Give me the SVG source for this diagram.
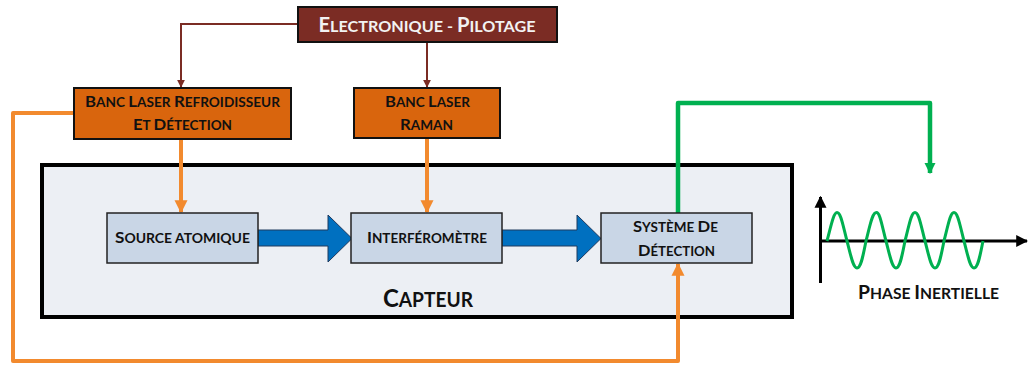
<svg xmlns="http://www.w3.org/2000/svg" width="1029" height="367" viewBox="0 0 1029 367">
<defs>
<style>
text{font-family:Lato,"Open Sans","Liberation Sans",sans-serif;font-weight:bold;text-anchor:middle}
.blk{fill:#111}
.inner{fill:#C9D6E6;stroke:#222;stroke-width:1.5}
.laser{fill:#D9650D;stroke:#111;stroke-width:2}
.red{fill:none;stroke:#7B2C24;stroke-width:2}
.org{fill:none;stroke:#F28A2E;stroke-width:4}
.grn{fill:none;stroke:#00B050;stroke-width:4.5}
.barrow{fill:#0070C0;stroke:#1F3A5F;stroke-width:1}
.s13{font-size:13px}
.s16{font-size:16px}
</style>
<marker id="mr" viewBox="0 0 10 10" refX="9" refY="5" markerWidth="8" markerHeight="10" orient="auto" markerUnits="userSpaceOnUse"><path d="M0,0L10,5L0,10z" fill="#7B2C24"/></marker>
<marker id="mo" viewBox="0 0 10 10" refX="9" refY="5" markerWidth="13" markerHeight="20" orient="auto" markerUnits="userSpaceOnUse"><path d="M0,0L10,5L0,10z" fill="#F28A2E"/></marker>
<marker id="mg" viewBox="0 0 10 10" refX="9" refY="5" markerWidth="11" markerHeight="22" orient="auto" markerUnits="userSpaceOnUse"><path d="M0,0L10,5L0,10z" fill="#00B050"/></marker>
<marker id="mk" viewBox="0 0 10 10" refX="9" refY="5" markerWidth="12" markerHeight="14" orient="auto" markerUnits="userSpaceOnUse"><path d="M0,0L10,5L0,10z" fill="#000"/></marker>
</defs>
<rect width="1029" height="367" fill="#fff"/>

<g id="capteur">
<rect x="42" y="165" width="750" height="152" fill="#ECEFF4" stroke="#000" stroke-width="4"/>
<text x="428" y="307" class="blk" textLength="90" lengthAdjust="spacingAndGlyphs"><tspan font-size="25">C</tspan><tspan font-size="20">APTEUR</tspan></text>
</g>

<g id="connectors">
<path class="red" d="M298,24H181V87" marker-end="url(#mr)"/>
<path class="red" d="M427,42V87" marker-end="url(#mr)"/>
<path class="org" d="M181,139V212" marker-end="url(#mo)"/>
<path class="org" d="M427,139V212" marker-end="url(#mo)"/>
<path class="org" d="M74,113H13V361H678V264" marker-end="url(#mo)" stroke-linejoin="round"/>
<path class="grn" d="M678,213V103H930V173" marker-end="url(#mg)" stroke-linejoin="round"/>
<path class="barrow" d="M258,230H328V215L352,238.5L328,262V246H258z"/>
<path class="barrow" d="M502,230H577V215L601,238.5L577,262V246H502z"/>
</g>

<g id="electronique">
<rect x="298" y="7" width="259" height="35" fill="#7B2C24" stroke="#111" stroke-width="2"/>
<text x="427" y="32" fill="#F2F2F2" textLength="217" lengthAdjust="spacingAndGlyphs"><tspan font-size="20">E</tspan><tspan font-size="16">LECTRONIQUE - </tspan><tspan font-size="20">P</tspan><tspan font-size="16">ILOTAGE</tspan></text>
</g>

<g id="banc-refroidisseur">
<rect class="laser" x="74" y="88" width="217" height="51"/>
<text x="182.5" y="107" class="blk" textLength="195" lengthAdjust="spacingAndGlyphs"><tspan class="s16">B</tspan><tspan class="s13">ANC </tspan><tspan class="s16">L</tspan><tspan class="s13">ASER </tspan><tspan class="s16">R</tspan><tspan class="s13">EFROIDISSEUR</tspan></text>
<text x="182.5" y="130" class="blk" textLength="99" lengthAdjust="spacingAndGlyphs"><tspan class="s16">E</tspan><tspan class="s13">T </tspan><tspan class="s16">D</tspan><tspan class="s13">ÉTECTION</tspan></text>
</g>

<g id="banc-raman">
<rect class="laser" x="354" y="88" width="146" height="50"/>
<text x="427.5" y="107" class="blk" textLength="85" lengthAdjust="spacingAndGlyphs"><tspan class="s16">B</tspan><tspan class="s13">ANC </tspan><tspan class="s16">L</tspan><tspan class="s13">ASER</tspan></text>
<text x="426.5" y="130" class="blk" textLength="53" lengthAdjust="spacingAndGlyphs"><tspan class="s16">R</tspan><tspan class="s13">AMAN</tspan></text>
</g>

<g id="source">
<rect class="inner" x="107" y="213" width="151" height="50"/>
<text x="182.5" y="243" class="blk" textLength="135" lengthAdjust="spacingAndGlyphs"><tspan class="s16">S</tspan><tspan class="s13">OURCE ATOMIQUE</tspan></text>
</g>

<g id="interferometre">
<rect class="inner" x="351" y="213" width="151" height="50"/>
<text x="427" y="243" class="blk" textLength="120" lengthAdjust="spacingAndGlyphs"><tspan class="s16">I</tspan><tspan class="s13">NTERFÉROMÈTRE</tspan></text>
</g>

<g id="detection">
<rect class="inner" x="601" y="213" width="151" height="50"/>
<text x="675.5" y="232" class="blk" textLength="85" lengthAdjust="spacingAndGlyphs"><tspan class="s16">S</tspan><tspan class="s13">YSTÈME </tspan><tspan class="s16">D</tspan><tspan class="s13">E</tspan></text>
<text x="676.5" y="256" class="blk" textLength="77" lengthAdjust="spacingAndGlyphs"><tspan class="s16">D</tspan><tspan class="s13">ÉTECTION</tspan></text>
</g>

<g id="phase">
<path d="M820.5,283V197" stroke="#000" stroke-width="3" fill="none" marker-end="url(#mk)"/>
<path d="M819,241H1027" stroke="#000" stroke-width="3" fill="none" marker-end="url(#mk)"/>
<path d="M827,241 C831,226 833.5,212.5 837,212.5 C841,212.5 843,226 847,241 C851,256 853,268 857,268 C861,268 863,256 866,241 C870,226 872,212.5 876.5,212.5 C880,212.5 882,226 886,241 C890,256 892,268 896,268 C900,268 902,256 905,241 C909,226 911,212.5 915,212.5 C919,212.5 921,226 925,241 C929,256 931,268 935,268 C939,268 941,256 944,241 C948,226 950,212.5 954,212.5 C958,212.5 960,226 964,241 C968,256 970,268 974,268 C978,268 980,256 983,241" fill="none" stroke="#00B050" stroke-width="3"/>
<text x="928.5" y="299" class="blk" textLength="141" lengthAdjust="spacingAndGlyphs"><tspan font-size="18">P</tspan><tspan font-size="14.5">HASE </tspan><tspan font-size="18">I</tspan><tspan font-size="14.5">NERTIELLE</tspan></text>
</g>
</svg>
